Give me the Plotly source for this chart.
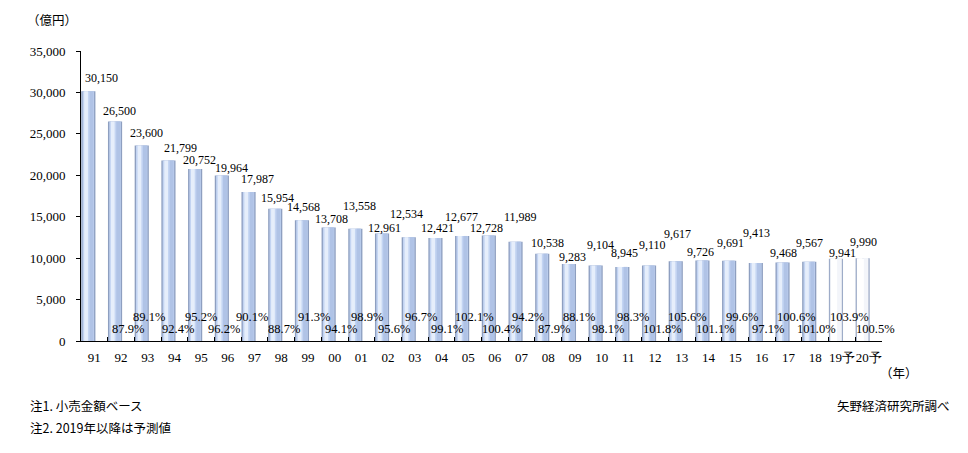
import plotly.graph_objects as go

categories = ["91", "92", "93", "94", "95", "96", "97", "98", "99", "00",
              "01", "02", "03", "04", "05", "06", "07", "08", "09", "10",
              "11", "12", "13", "14", "15", "16", "17", "18", "19予", "20予"]
values = [30150, 26500, 23600, 21799, 20752, 19964, 17987, 15954, 14568, 13708,
          13558, 12961, 12534, 12421, 12677, 12728, 11989, 10538, 9283, 9104,
          8945, 9110, 9617, 9726, 9691, 9413, 9468, 9567, 9941, 9990]
pct = [None, 87.9, 89.1, 92.4, 95.2, 96.2, 90.1, 88.7, 91.3, 94.1,
       98.9, 95.6, 96.7, 99.1, 102.1, 100.4, 94.2, 87.9, 88.1, 98.1,
       98.3, 101.8, 105.6, 101.1, 99.6, 97.1, 100.6, 101.0, 103.9, 100.5]
forecast = [False] * 28 + [True, True]

# label offsets (pixels) – style only
val_dx = [7, -2, -1, 6, -2, 4, 2.5, -4, -4, -3.5, -2, -4, -8, -3.5, -7, -8,
          -1.5, -1, -2, -1.5, -4, -3, -4, -8, -5, -5, -5.5, -6, 1, -5.5]
val_dy = [13.5, 10.7, 12.6, 12, 9.5, 7.7, 13, 10.8, 13, 8, 22.6, 5.5, 23, 10,
          19, 7.4, 24.5, 10.5, 7, 21, 13.6, 21, 27, 8, 17.5, 30, 10, 18.5, 5.4, 16]
pct_dx = [0, 6.5, 1, 3.5, 0, -4, -2.5, 3, 6, 6, 6, 6, 6, 6, 6, 7, 6, 6, 4, 6,
          5, 7, 6, 7, 7, 6, 8, 1, 8, 7]

serif = "Liberation Serif"
jp = "Noto Sans CJK JP"

outer_col = ["#8e9fc0" if not f else "#9eacc8" for f in forecast]
inner_col = ["#c3d4f2" if not f else "#ffffff" for f in forecast]
light_col = ["#e6eefb" if not f else "#ffffff" for f in forecast]
right_col = ["#b0c3e6" if not f else "#f3f5fa" for f in forecast]

fig = go.Figure()
fig.add_trace(go.Bar(x=categories, y=values, width=0.53, offset=-0.49,
                     marker=dict(color=outer_col, line=dict(width=0)),
                     hoverinfo="skip", showlegend=False))
fig.add_trace(go.Bar(x=categories, y=values, width=0.43, offset=-0.44,
                     marker=dict(color=inner_col, line=dict(width=0)),
                     hoverinfo="skip", showlegend=False))
fig.add_trace(go.Bar(x=categories, y=values, width=0.15, offset=-0.18,
                     marker=dict(color=right_col, line=dict(width=0)),
                     hoverinfo="skip", showlegend=False))
fig.add_trace(go.Bar(x=categories, y=values, width=0.14, offset=-0.38,
                     marker=dict(color=light_col, line=dict(width=0)),
                     hoverinfo="skip", showlegend=False))

annotations = []
for i, v in enumerate(values):
    annotations.append(dict(x=i, y=v, xref="x", yref="y", text=f"{v:,}",
                            showarrow=False, xanchor="center", yanchor="middle",
                            xshift=val_dx[i], yshift=val_dy[i],
                            font=dict(family=serif, size=12, color="black")))
    if pct[i] is not None:
        ys = 24.5 if i % 2 == 0 else 12.5
        annotations.append(dict(x=i, y=0, xref="x", yref="y", text=f"{pct[i]:.1f}%",
                                showarrow=False, xanchor="center", yanchor="middle",
                                xshift=pct_dx[i], yshift=ys,
                                font=dict(family=serif, size=12.5, color="black")))

W, H = 968, 453
l, r, t, b = 81, 86, 51, 112
pw, ph = W - l - r, H - t - b

text_notes = [
    (25, 19, "（億円）", "left"),
    (878, 372, "（年）", "left"),
    (28, 406, "注1. 小売金額ベース", "left"),
    (28, 427, "注2. 2019年以降は予測値", "left"),
    (952, 406, "矢野経済研究所調べ", "right"),
]
for px, py, txt, anc in text_notes:
    annotations.append(dict(x=(px - l) / pw, y=1 - (py - t) / ph, xref="paper", yref="paper",
                            text=txt, showarrow=False, xanchor=anc, yanchor="middle",
                            font=dict(family=jp, size=12.5, color="black")))

fig.update_layout(
    width=W, height=H,
    margin=dict(l=l, r=r, t=t, b=b),
    paper_bgcolor="white", plot_bgcolor="white",
    barmode="overlay",
    xaxis=dict(type="category", range=[-0.5, 29.5], showline=True, linecolor="black",
               linewidth=1, ticks="inside", ticklen=4, tickcolor="black",
               tickson="boundaries", showgrid=False, zeroline=False, tickangle=0,
               tickfont=dict(family=serif, size=13, color="black"),
               ticklabelstandoff=4, fixedrange=True),
    yaxis=dict(range=[0, 35000], tickvals=[0, 5000, 10000, 15000, 20000, 25000, 30000, 35000],
               tickformat=",", showline=True, linecolor="black", linewidth=1,
               ticks="outside", ticklen=4, tickcolor="black", showgrid=False,
               zeroline=False, tickfont=dict(family=serif, size=13, color="black"),
               ticklabelstandoff=8, fixedrange=True),
    annotations=annotations,
)
fig.write_html("out.html")
